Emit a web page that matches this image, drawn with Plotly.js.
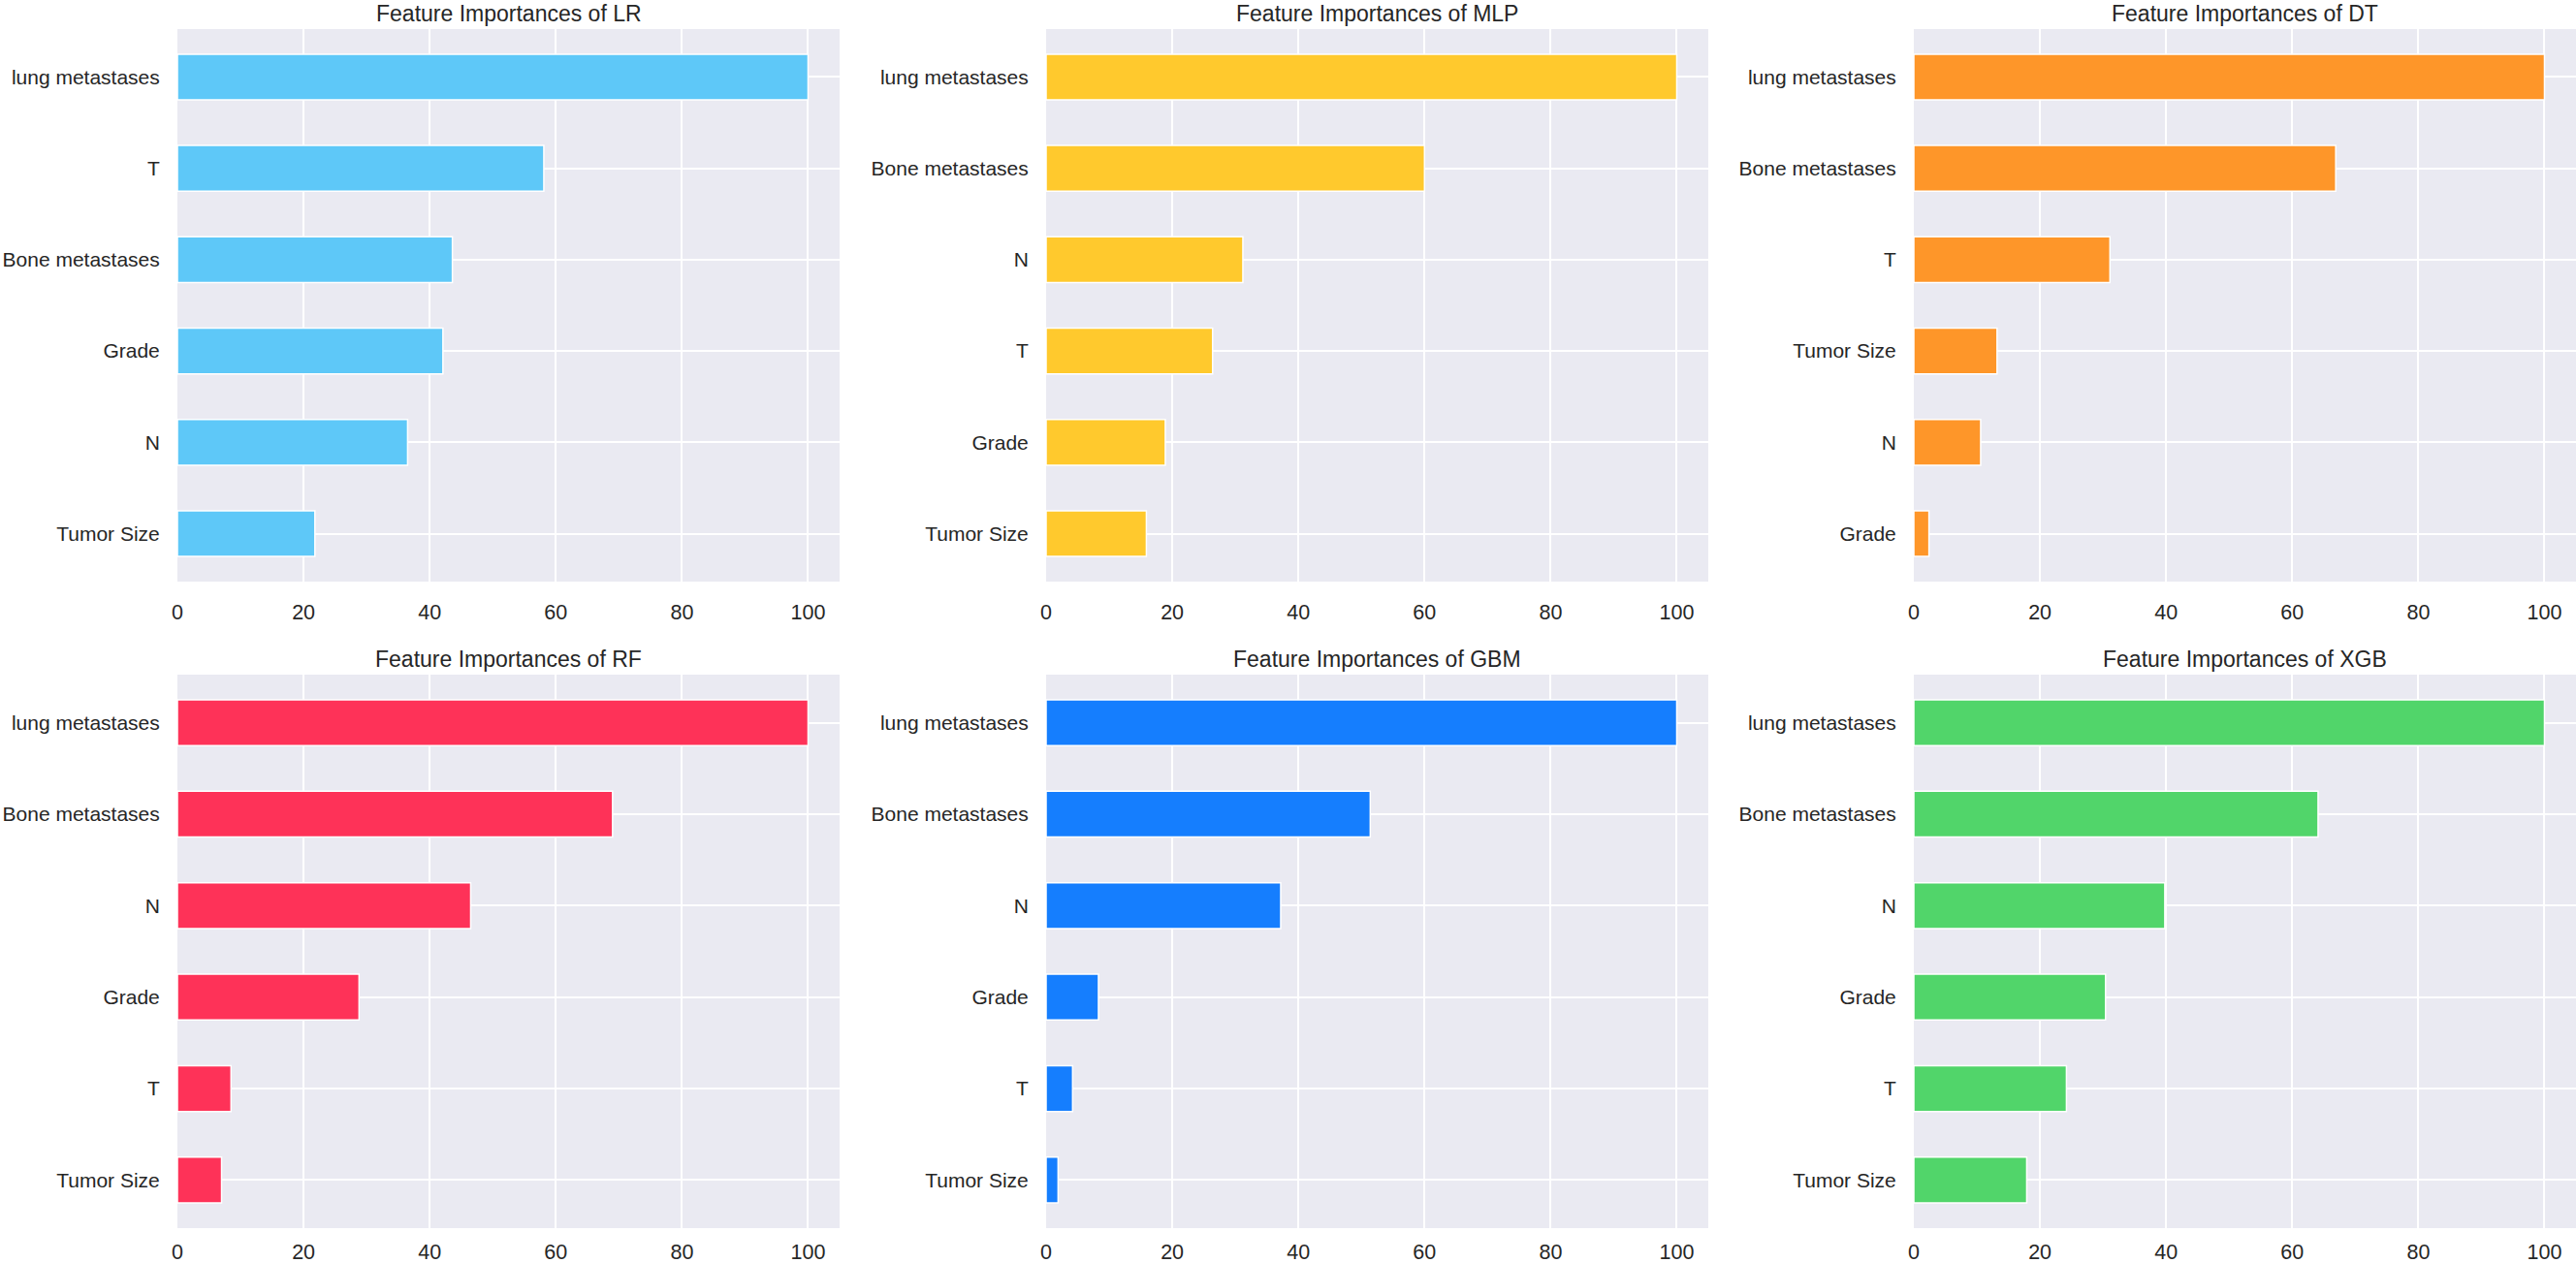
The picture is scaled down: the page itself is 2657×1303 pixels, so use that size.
<!DOCTYPE html>
<html>
<head>
<meta charset="utf-8">
<script src="https://cdn.plot.ly/plotly-3.0.1.min.js"></script>
<style>
html,body{margin:0;padding:0;background:#fff;}
#chart{width:2657px;height:1303px;}
</style>
</head>
<body>
<div id="chart"></div>
<script>
// Data (bottom-to-top order, as drawn)
const models = ["LR", "MLP", "DT", "RF", "GBM", "XGB"];

const features_LR  = ["Tumor Size", "N", "Grade", "Bone metastases", "T", "lung metastases"];
const values_LR    = [21.8, 36.5, 42.1, 43.6, 58.1, 100];

const features_MLP = ["Tumor Size", "Grade", "T", "N", "Bone metastases", "lung metastases"];
const values_MLP   = [15.9, 18.9, 26.4, 31.2, 60.0, 100];

const features_DT  = ["Grade", "N", "Tumor Size", "T", "Bone metastases", "lung metastases"];
const values_DT    = [2.4, 10.6, 13.2, 31.1, 66.9, 100];

const features_RF  = ["Tumor Size", "T", "Grade", "N", "Bone metastases", "lung metastases"];
const values_RF    = [7.0, 8.5, 28.8, 46.5, 69.0, 100];

const features_GBM = ["Tumor Size", "T", "Grade", "N", "Bone metastases", "lung metastases"];
const values_GBM   = [1.9, 4.2, 8.3, 37.2, 51.4, 100];

const features_XGB = ["Tumor Size", "T", "Grade", "N", "Bone metastases", "lung metastases"];
const values_XGB   = [17.9, 24.2, 30.4, 39.8, 64.1, 100];

const xTicks = [0, 20, 40, 60, 80, 100];

const colors = {LR:"#5EC8F8", MLP:"#FFC92D", DT:"#FE9629", RF:"#FE3258", GBM:"#157EFE", XGB:"#51D56A"};

const featuresBy = {LR:features_LR, MLP:features_MLP, DT:features_DT, RF:features_RF, GBM:features_GBM, XGB:features_XGB};
const valuesBy   = {LR:values_LR, MLP:values_MLP, DT:values_DT, RF:values_RF, GBM:values_GBM, XGB:values_XGB};

const W = 2657, H = 1303;
const colDom = [[183/W, 866/W], [1079/W, 1762/W], [1974/W, 1.0]];
const rowDom = [[1-600/H, 1-30/H], [1-1267/H, 1-696/H]];

const FONT = "Liberation Sans, Arial, Helvetica, sans-serif";
const TXT = "#262626";

const traces = [];
const layout = {
  width: W, height: H,
  margin: {l:0, r:0, t:0, b:0},
  paper_bgcolor: "#ffffff",
  plot_bgcolor: "#EAEAF2",
  showlegend: false,
  font: {family: FONT, color: TXT, size: 21},
  annotations: []
};

models.forEach((m, i) => {
  const n = i + 1;
  const sfx = n === 1 ? "" : String(n);
  const r = Math.floor(i / 3), c = i % 3;
  traces.push({
    type: "bar",
    orientation: "h",
    x: valuesBy[m],
    y: featuresBy[m],
    width: 0.5,
    xaxis: "x" + sfx,
    yaxis: "y" + sfx,
    marker: {color: colors[m], line: {color: "#ffffff", width: 1.5}},
    hoverinfo: "x+y"
  });
  layout["xaxis" + sfx] = {
    domain: colDom[c],
    anchor: "y" + sfx,
    range: [0, 105],
    tickvals: xTicks,
    ticktext: xTicks.map(String),
    showgrid: true, gridcolor: "#ffffff", gridwidth: 2,
    zeroline: false, showline: false,
    ticks: "outside", ticklen: (r === 0 ? 12 : 5), tickcolor: "rgba(0,0,0,0)",
    tickfont: {family: FONT, size: 21.5, color: TXT},
    fixedrange: true
  };
  layout["yaxis" + sfx] = {
    domain: rowDom[r],
    anchor: "x" + sfx,
    type: "category",
    categoryorder: "array",
    categoryarray: featuresBy[m],
    range: [-0.525, 5.525],
    showgrid: true, gridcolor: "#ffffff", gridwidth: 2,
    zeroline: false, showline: false,
    ticks: "outside", ticklen: 13, tickcolor: "rgba(0,0,0,0)",
    tickfont: {family: FONT, size: 21, color: TXT},
    fixedrange: true
  };
  layout.annotations.push({
    text: "Feature Importances of " + m,
    xref: "paper", yref: "paper",
    x: (colDom[c][0] + colDom[c][1]) / 2,
    y: rowDom[r][1],
    xanchor: "center", yanchor: "bottom",
    yshift: 1,
    showarrow: false,
    font: {family: FONT, size: 23, color: TXT}
  });
});

Plotly.newPlot("chart", traces, layout, {displayModeBar: false, staticPlot: true});
</script>
</body>
</html>
